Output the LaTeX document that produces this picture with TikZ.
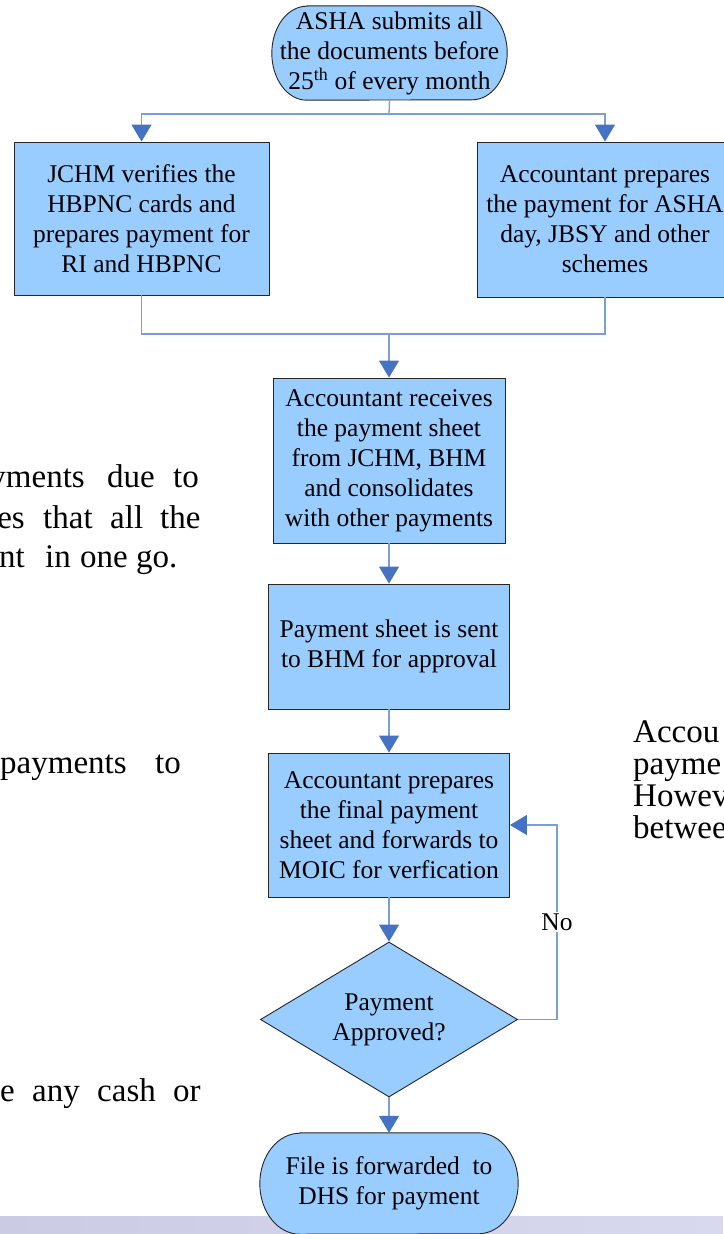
\documentclass[tikz,border=0pt]{standalone}
\usepackage{fontspec}
\setmainfont{Liberation Serif}
\usetikzlibrary{arrows.meta,shapes.geometric,calc}
\definecolor{boxblue}{RGB}{153,204,255}
\definecolor{linkblue}{RGB}{122,158,214}
\definecolor{tipblue}{RGB}{70,114,196}
\definecolor{bandL}{RGB}{203,203,228}
\definecolor{bandR}{RGB}{216,216,238}
\pgfdeclarelayer{bg}
\pgfsetlayers{bg,main}
\begin{document}
\begin{tikzpicture}[x=1pt,y=-1pt,
  boxtext/.style={font=\fontsize{25.5}{30}\selectfont, align=center, inner sep=0pt},
  proc/.style={boxtext, rectangle, draw=black!85, line width=0.9pt, fill=boxblue},
  term/.style={boxtext, rectangle},
  termline/.style={draw=black!85, line width=0.9pt, fill=boxblue},
  decision/.style={boxtext, diamond, aspect=1.66, draw=black!85, line width=0.9pt, fill=boxblue},
  link/.style={draw=linkblue, line width=1.3pt},
  conn/.style={link, -{Triangle[length=17pt,width=20pt,color=tipblue]}},
  lbl/.style={boxtext, fill=white, inner sep=1.5pt},
  bgtext/.style={font=\fontsize{33}{40}\selectfont, inner sep=0pt}
]
\useasboundingbox (0,0) rectangle (723,1234);

% nodes
\node[term, minimum width=235pt, minimum height=94pt] (t) at (389.5,53)
  {ASHA submits all\\the documents before\\25\textsuperscript{th} of every month};
\node[proc, minimum width=255pt, minimum height=153pt] (jchm) at (141.5,218.5)
  {JCHM verifies the\\HBPNC cards and\\prepares payment for\\RI and HBPNC};
\node[proc, minimum width=256pt, minimum height=155pt] (accp) at (605,219.5)
  {Accountant prepares\\the payment for ASHA\\day, JBSY and other\\schemes};
\node[proc, minimum width=232pt, minimum height=165pt] (recv) at (389,460.5)
  {Accountant receives\\the payment sheet\\from JCHM, BHM\\and consolidates\\with other payments};
\node[proc, minimum width=241pt, minimum height=125pt] (sheet) at (389,646.5)
  {Payment sheet is sent\\to BHM for approval};
\node[proc, minimum width=241pt, minimum height=144pt] (final) at (389,825)
  {Accountant prepares\\the final payment\\sheet and forwards to\\MOIC for verfication};
\node[decision, minimum width=257pt, minimum height=155pt] (dec) at (389,1019.5)
  {Payment\\Approved?};
\node[term, minimum width=258pt, minimum height=101pt] (end) at (389,1183.5)
  {File is forwarded~ to\\DHS for payment};

% background layer: page, band, terminal outlines
\begin{pgfonlayer}{bg}
  \fill[white] (0,0) rectangle (723,1234);
  \fill[left color=bandL, right color=bandR] (0,1216) rectangle (723,1234);
  \path[termline] ([xshift=35pt]t.north west) -- ([xshift=-35pt]t.north east)
    arc[start angle=90, end angle=-90, x radius=35pt, y radius=47pt]
    -- ([xshift=35pt]t.south west)
    arc[start angle=270, end angle=90, x radius=35pt, y radius=47pt] -- cycle;
  \path[termline] ([xshift=40pt]end.north west) -- ([xshift=-40pt]end.north east)
    arc[start angle=90, end angle=-90, x radius=40pt, y radius=50.5pt]
    -- ([xshift=40pt]end.south west)
    arc[start angle=270, end angle=90, x radius=40pt, y radius=50.5pt] -- cycle;
\end{pgfonlayer}

% background document text fragments
\node[bgtext, anchor=base east] (l1a) at (85,487) {yments};
\node[bgtext, anchor=base west] (l1b) at (107,487) {due};
\node[bgtext, anchor=base west] (l1c) at (173,487) {to};
\node[bgtext, anchor=base east] (l2a) at (25,528) {es};
\node[bgtext, anchor=base west] (l2b) at (43,528) {that};
\node[bgtext, anchor=base west] (l2c) at (110,528) {all};
\node[bgtext, anchor=base west] (l2d) at (160,528) {the};
\node[bgtext, anchor=base east] (l3a) at (25,567) {nt};
\node[bgtext, anchor=base west] (l3b) at (45,567) {in};
\node[bgtext, anchor=base west] (l3c) at (80,567) {one go.};
\node[bgtext, anchor=base west] (l4a) at (0,773) {payments};
\node[bgtext, anchor=base west] (l4b) at (155,773) {to};
\node[bgtext, anchor=base east] (l5a) at (15,1101) {e};
\node[bgtext, anchor=base west] (l5b) at (32,1101) {any};
\node[bgtext, anchor=base west] (l5c) at (97,1101) {cash};
\node[bgtext, anchor=base west] (l5d) at (173,1101) {or};
\node[bgtext, anchor=base west] (r1) at (633,742) {Accou};
\node[bgtext, anchor=base west] (r2) at (633,774) {payme};
\node[bgtext, anchor=base west] (r3) at (633,806) {Howev};
\node[bgtext, anchor=base west] (r4) at (633,838) {betwee};

% connectors
\coordinate (split) at (389,114);
\draw[link] (t.south) -- (split);
\draw[conn] (split) -| (jchm.north);
\draw[conn] (split) -| (accp.north);
\coordinate (merge) at (389,334);
\draw[link] (jchm.south) |- (merge);
\draw[link] (accp.south) |- (merge);
\draw[conn] (merge) -- (recv.north);
\draw[conn] (recv.south) -- (sheet.north);
\draw[conn] (sheet.south) -- (final.north);
\draw[conn] (final.south) -- (dec.north);
\draw[conn] (dec.south) -- (end.north);
\coordinate (fb) at (557,1019.5);
\draw[conn] (dec.east) -- (fb) -- node[lbl] (no) {No} (fb |- final.east) -- (final.east);
\end{tikzpicture}
\end{document}
